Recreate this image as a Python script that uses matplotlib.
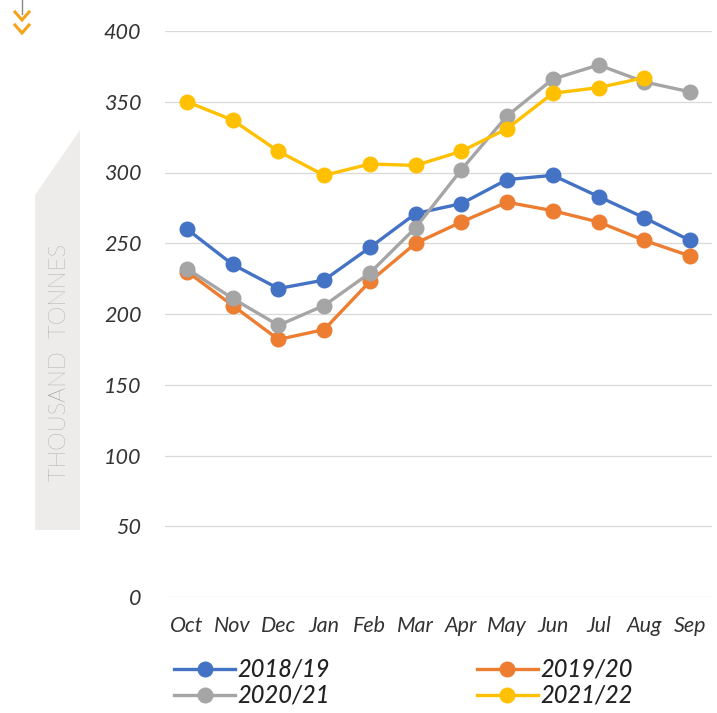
import numpy as np
import matplotlib
matplotlib.use("Agg")
import matplotlib.pyplot as plt
from matplotlib.patches import Polygon
from matplotlib.lines import Line2D

plt.rcParams['font.family'] = ['Lato', 'DejaVu Sans']

# ============================================
# data (thousand tonnes)
# ============================================
months = ['Oct', 'Nov', 'Dec', 'Jan', 'Feb', 'Mar', 'Apr', 'May', 'Jun', 'Jul', 'Aug', 'Sep']
s_2018_19 = [260, 235, 218, 224, 247, 271, 278, 295, 298, 283, 268, 252]
s_2019_20 = [230, 206, 182, 189, 223, 250, 265, 279, 273, 265, 252, 241]
s_2020_21 = [232, 211, 192, 206, 229, 261, 302, 340, 366, 376, 364, 357]
s_2021_22 = [350, 337, 315, 298, 306, 305, 315, 331, 356, 360, 367]
y_ticks = [0, 50, 100, 150, 200, 250, 300, 350, 400]

series = [
    ('2018/19', s_2018_19, '#4472C4'),
    ('2019/20', s_2019_20, '#ED7D31'),
    ('2020/21', s_2020_21, '#A5A5A5'),
    ('2021/22', s_2021_22, '#FFC000'),
]

W, H = 717, 713
fig = plt.figure(figsize=(W / 100, H / 100), dpi=100)

def fx(px):
    return px / W

def fy(py):
    return 1 - py / H

ax = fig.add_axes([fx(165), fy(597), fx(712) - fx(165), fy(31) - fy(597)])

x = np.arange(len(months))
lines = []
for label, vals, col in series:
    ln, = ax.plot(x[:len(vals)], vals, color=col, lw=2.4, marker='o', ms=10.5,
                  label=label, zorder=3)
    lines.append(ln)

ax.set_xlim(-0.48, 11.48)
ax.set_ylim(0, 400)
ax.set_yticks(y_ticks)
ax.set_xticks(x)
ax.set_xticklabels(months)
ax.yaxis.grid(True, color='#D9D9D9', lw=0.9)
ax.set_axisbelow(True)
for sp in ax.spines.values():
    sp.set_visible(False)
ax.tick_params(length=0, labelsize=15.5, colors='#333333', labelcolor='#333333')
ax.tick_params(axis='y', pad=17)
ax.tick_params(axis='x', pad=14)
for t in ax.get_xticklabels() + ax.get_yticklabels():
    t.set_fontstyle('italic')

# legend, two columns (2018/19 & 2020/21 left, 2019/20 & 2021/22 right)
order = [0, 2, 1, 3]
leg = ax.legend([lines[i] for i in order], [series[i][0] for i in order],
                loc='upper left', bbox_to_anchor=(fx(174), fy(658)), bbox_transform=fig.transFigure,
                ncol=2, frameon=False, columnspacing=6.2, handlelength=2.6,
                handletextpad=0.1, labelspacing=0.12, borderaxespad=0, borderpad=0,
                prop={'size': 17, 'style': 'italic', 'weight': 'medium'})
for t in leg.get_texts():
    t.set_color('#222222')

# grey label band with slanted top
band = Polygon([(fx(35), fy(195)), (fx(80), fy(130)), (fx(80), fy(530)), (fx(35), fy(530))],
               closed=True, transform=fig.transFigure, facecolor='#EDECEA', edgecolor='none')
fig.patches.append(band)
fig.text(fx(60), fy(363), 'THOUSAND  TONNES', rotation=90, ha='center', va='center',
         fontsize=17, color='#7A7A7A', fontweight='light')

# little arrow at the top left
fig.add_artist(Line2D([fx(22), fx(22)], [fy(0), fy(14)], transform=fig.transFigure,
                      color='#888888', lw=1))
for top in (12, 25):
    fig.add_artist(Line2D([fx(15), fx(22), fx(29)], [fy(top), fy(top + 8), fy(top)],
                          transform=fig.transFigure, color='#F5A31A', lw=2.2,
                          solid_joinstyle='miter'))

plt.savefig('out.png', dpi=100)
